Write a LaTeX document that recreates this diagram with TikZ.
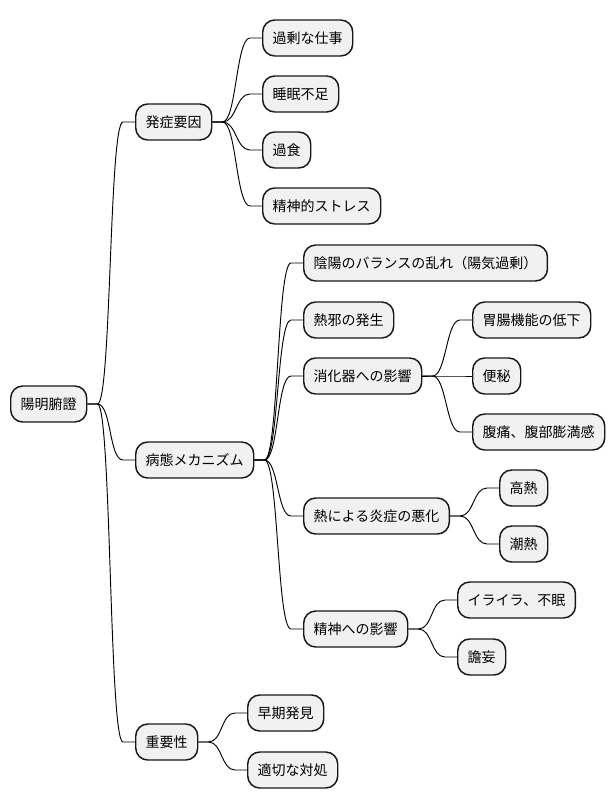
\documentclass[tikz,border=0pt]{standalone}
\usepackage{fontspec}
\setmainfont{Noto Sans CJK JP}
\usetikzlibrary{calc}
\definecolor{boxfill}{HTML}{F1F1F1}
\definecolor{boxline}{HTML}{181818}
\tikzset{
  mm/.style={draw=boxline, fill=boxfill, line width=1.1pt, rounded corners=9pt,
    minimum height=27pt, inner xsep=7.5pt, inner ysep=0pt, anchor=west,
    font=\fontsize{10.5pt}{12pt}\selectfont, text=black},
  conn/.style={draw=black, line width=0.7pt}
}
\newcommand\conn[2]{\draw[conn] (#1.east) -- ++(10,0) .. controls +(14,0) and ($(#2.west)+(-26,0)$) .. ($(#2.west)+(-12,0)$) -- (#2.west);}
\begin{document}
\begin{tikzpicture}[x=0.75pt,y=-0.75pt]
\useasboundingbox (0,0) rectangle (614,809);
\node[mm] (root) at (10,404) {陽明腑證};
\node[mm] (a) at (135,122) {発症要因};
\node[mm] (a1) at (262,38) {過剰な仕事};
\node[mm] (a2) at (262,94) {睡眠不足};
\node[mm] (a3) at (262,150) {過食};
\node[mm] (a4) at (262,206) {精神的ストレス};
\node[mm] (b) at (135,460) {病態メカニズム};
\node[mm] (b1) at (303,263) {陰陽のバランスの乱れ（陽気過剰）};
\node[mm] (b2) at (303,320) {熱邪の発生};
\node[mm] (b3) at (303,376) {消化器への影響};
\node[mm] (b31) at (472,320) {胃腸機能の低下};
\node[mm] (b32) at (472,376) {便秘};
\node[mm] (b33) at (472,432) {腹痛、腹部膨満感};
\node[mm] (b4) at (303,516) {熱による炎症の悪化};
\node[mm] (b41) at (499,488) {高熱};
\node[mm] (b42) at (499,544) {潮熱};
\node[mm] (b5) at (303,629) {精神への影響};
\node[mm] (b51) at (457,600) {イライラ、不眠};
\node[mm] (b52) at (457,657) {譫妄};
\node[mm] (c) at (135,742) {重要性};
\node[mm] (c1) at (247,713) {早期発見};
\node[mm] (c2) at (247,770) {適切な対処};
\conn{root}{a}\conn{root}{b}\conn{root}{c}
\conn{a}{a1}\conn{a}{a2}\conn{a}{a3}\conn{a}{a4}
\conn{b}{b1}\conn{b}{b2}\conn{b}{b3}\conn{b}{b4}\conn{b}{b5}
\conn{b3}{b31}\conn{b3}{b32}\conn{b3}{b33}
\conn{b4}{b41}\conn{b4}{b42}
\conn{b5}{b51}\conn{b5}{b52}
\conn{c}{c1}\conn{c}{c2}
\end{tikzpicture}
\end{document}
